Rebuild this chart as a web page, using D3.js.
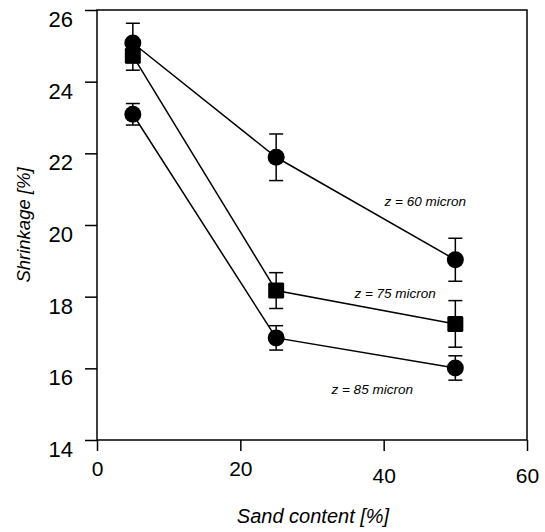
<!DOCTYPE html>
<html><head><meta charset="utf-8">
<script src="https://cdn.jsdelivr.net/npm/d3@7"></script>
<style>body{margin:0;background:#fff}svg{display:block}text{font-family:"Liberation Sans",Arial,sans-serif;fill:#000}</style>
</head><body><svg id="c" width="545" height="532"></svg>
<script>
const sand = [5, 25, 50];
const seriesNames = ["z = 60 micron", "z = 75 micron", "z = 85 micron"];
const shrink60 = [25.08, 21.89, 19.03];
const err60 = [0.55, 0.65, 0.6];
const shrink75 = [24.72, 18.17, 17.24];
const err75 = [0.4, 0.5, 0.65];
const shrink85 = [23.09, 16.85, 16.01];
const err85 = [0.3, 0.34, 0.34];
const xTicks = [0, 20, 40, 60];
const yTicks = [14, 16, 18, 20, 22, 24, 26];
const labelPos = [[45.8, 20.67], [41.6, 18.1], [38.4, 15.42]];

const series = [
  {name: seriesNames[0], y: shrink60, e: err60, shape: "circle", lab: labelPos[0]},
  {name: seriesNames[1], y: shrink75, e: err75, shape: "square", lab: labelPos[1]},
  {name: seriesNames[2], y: shrink85, e: err85, shape: "circle", lab: labelPos[2]}
];

const svg = d3.select("#c");
const L = 97, R = 527, T = 10, B = 440;
const x = d3.scaleLinear().domain([0, 60]).range([L, R]);
const y = d3.scaleLinear().domain([14, 26]).range([B, T]);

svg.append("rect").attr("x", L).attr("y", T).attr("width", R - L).attr("height", B - T)
  .attr("fill", "none").attr("stroke", "#000").attr("stroke-width", 1.5);

const xa = svg.append("g").attr("transform", `translate(0,${B})`)
  .call(d3.axisBottom(x).tickValues(xTicks).tickSize(11).tickSizeOuter(0).tickFormat(d3.format("d")));
xa.select(".domain").remove();
xa.selectAll("line").attr("stroke-width", 1.5);
xa.selectAll("text").style("font-size", "21px").attr("fill", "#000").attr("dy", (d) => d >= 40 ? "1.38em" : "1.05em");

const ya = svg.append("g").attr("transform", `translate(${L},0)`)
  .call(d3.axisLeft(y).tickValues(yTicks).tickSize(12).tickSizeOuter(0).tickFormat(d3.format("d")));
ya.select(".domain").remove();
ya.selectAll("line").attr("stroke-width", 1.5);
ya.selectAll("text").style("font-size", "22px").attr("fill", "#000").attr("x", -24).attr("dy", "0.75em");

svg.append("text").attr("x", 313).attr("y", 523).attr("text-anchor", "middle")
  .style("font-size", "20px").style("font-style", "italic").text("Sand content [%]");
svg.append("text").attr("transform", "translate(30,225) rotate(-90)").attr("text-anchor", "middle")
  .style("font-size", "18.5px").style("font-style", "italic").text("Shrinkage [%]");

const line = d3.line().x((d, i) => x(sand[i])).y(d => y(d));
series.forEach(s => {
  const g = svg.append("g");
  g.append("path").attr("d", line(s.y)).attr("fill", "none").attr("stroke", "#000").attr("stroke-width", 1.5);
  s.y.forEach((v, i) => {
    const cx = x(sand[i]);
    g.append("line").attr("x1", cx).attr("x2", cx).attr("y1", y(v - s.e[i])).attr("y2", y(v + s.e[i]))
      .attr("stroke", "#000").attr("stroke-width", 1.5);
    [v - s.e[i], v + s.e[i]].forEach(w => {
      g.append("line").attr("x1", cx - 7).attr("x2", cx + 7).attr("y1", y(w)).attr("y2", y(w))
        .attr("stroke", "#000").attr("stroke-width", 1.5);
    });
    if (s.shape === "circle") {
      g.append("circle").attr("cx", cx).attr("cy", y(v)).attr("r", 8.5).attr("fill", "#000");
    } else {
      g.append("rect").attr("x", cx - 8).attr("y", y(v) - 8).attr("width", 16).attr("height", 16)
        .attr("rx", 1.5).attr("fill", "#000");
    }
  });
  svg.append("text").attr("x", x(s.lab[0])).attr("y", y(s.lab[1])).attr("text-anchor", "middle")
    .attr("dy", "0.35em").style("font-size", "13.5px").style("font-style", "italic").text(s.name);
});
</script></body></html>
